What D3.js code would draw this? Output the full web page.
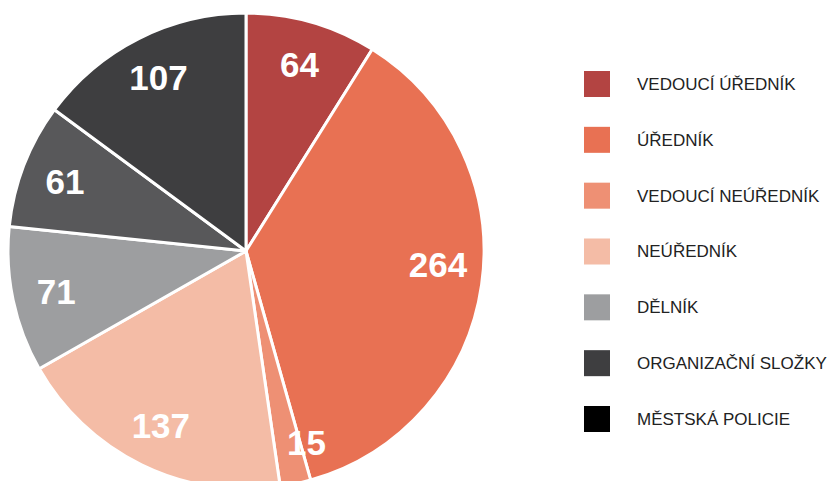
<!DOCTYPE html>
<html>
<head>
<meta charset="utf-8">
<script src="https://cdn.jsdelivr.net/npm/d3@7"></script>
<style>
  html, body { margin: 0; padding: 0; background: #fff; }
  svg { display: block; }
</style>
</head>
<body>
<svg id="chart" width="834" height="481"></svg>
<script>
// ---- data ----
const legendLabels = ["VEDOUCÍ ÚŘEDNÍK", "ÚŘEDNÍK", "VEDOUCÍ NEÚŘEDNÍK", "NEÚŘEDNÍK", "DĚLNÍK", "ORGANIZAČNÍ SLOŽKY", "MĚSTSKÁ POLICIE"];
const legendColors = ["#b34442", "#e87153", "#ee9074", "#f4bca6", "#9d9ea0", "#3e3e40", "#000000"];
const sliceValues = [64, 264, 15, 137, 71, 61, 107];
const sliceColors = ["#b34442", "#e87153", "#ee9074", "#f4bca6", "#9d9ea0", "#58585a", "#3e3e40"];

// ---- layout ----
const cx = 246, cy = 251, R = 238, labelR = 194;
// small label nudges (avoid overlap), by slice index
const labelNudge = {1: [0, -14], 2: [20, 2]};

const svg = d3.select("#chart");
const g = svg.append("g").attr("transform", `translate(${cx},${cy})`);

const pie = d3.pie().sort(null).value(d => d)(sliceValues);
const arc = d3.arc().innerRadius(0).outerRadius(R);
const labelArc = d3.arc().innerRadius(labelR).outerRadius(labelR);

g.selectAll("path.slice")
  .data(pie)
  .join("path")
  .attr("class", "slice")
  .attr("d", arc)
  .attr("fill", (d, i) => sliceColors[i])
  .attr("stroke", "#fff")
  .attr("stroke-width", 3)
  .attr("stroke-linejoin", "round");

g.selectAll("text.val")
  .data(pie)
  .join("text")
  .attr("class", "val")
  .attr("transform", (d, i) => {
    const [x, y] = labelArc.centroid(d);
    const n = labelNudge[i] || [0, 0];
    return `translate(${x + n[0]},${y + n[1]})`;
  })
  .attr("text-anchor", "middle")
  .attr("dy", "0.36em")
  .attr("font-family", "'Liberation Sans', Arial, sans-serif")
  .attr("font-weight", "bold")
  .attr("font-size", 35)
  .attr("fill", "#fff")
  .text(d => d.data);

// ---- legend ----
const ly = d3.scalePoint().domain(legendLabels).range([84, 419]);
const lg = svg.append("g");
const items = lg.selectAll("g.item")
  .data(legendLabels)
  .join("g")
  .attr("class", "item")
  .attr("transform", d => `translate(584,${ly(d)})`);
items.append("rect")
  .attr("x", 0).attr("y", -13)
  .attr("width", 26).attr("height", 26)
  .attr("fill", (d, i) => legendColors[i]);
items.append("text")
  .attr("x", 53)
  .attr("dy", "0.35em")
  .attr("font-family", "'Liberation Sans', Arial, sans-serif")
  .attr("font-size", 17)
  .attr("fill", "#222")
  .text(d => d);
</script>
</body>
</html>
